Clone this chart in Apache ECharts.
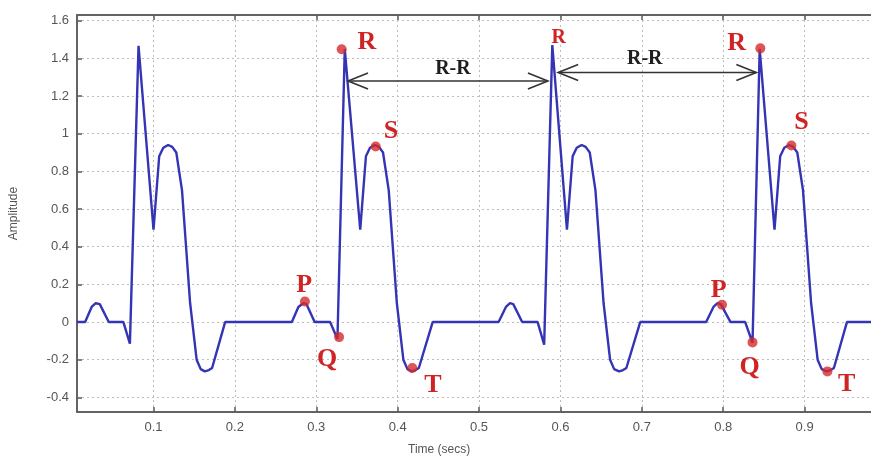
<!DOCTYPE html>
<html>
<head>
<meta charset="utf-8">
<script src="https://cdn.jsdelivr.net/npm/echarts@6/dist/echarts.min.js"></script>
<style>
  html, body { margin: 0; padding: 0; background: #fff; }
  #chart { width: 871px; height: 459px; }
</style>
</head>
<body>
<div id="chart"></div>
<script>
// ECG trace, four beats: time in seconds and amplitude
const timeSec = [
  0.006, 0.016, 0.024, 0.029, 0.034, 0.045, 0.063, 0.071, 0.0816,
  0.100, 0.107, 0.112, 0.118, 0.123, 0.128, 0.135, 0.145, 0.153, 0.158, 0.163, 0.168, 0.172, 0.188,
  0.270, 0.278, 0.284, 0.288, 0.298, 0.317, 0.326, 0.335,
  0.354, 0.361, 0.366, 0.372, 0.377, 0.382, 0.389, 0.399, 0.407, 0.412, 0.417, 0.422, 0.426, 0.443,
  0.524, 0.533, 0.538, 0.542, 0.553, 0.572, 0.580, 0.590,
  0.608, 0.615, 0.620, 0.626, 0.631, 0.636, 0.643, 0.653, 0.661, 0.666, 0.672, 0.677, 0.681, 0.698,
  0.779, 0.788, 0.793, 0.797, 0.809, 0.827, 0.836, 0.8448,
  0.863, 0.870, 0.875, 0.881, 0.886, 0.891, 0.898, 0.908, 0.916, 0.921, 0.927, 0.932, 0.936, 0.952,
  0.990
];
const amplitude = [
  0, 0, 0.08, 0.10, 0.095, 0, 0, -0.115, 1.466,
  0.49, 0.88, 0.925, 0.94, 0.93, 0.90, 0.70, 0.10, -0.20, -0.25, -0.262, -0.255, -0.244, 0,
  0, 0.08, 0.10, 0.095, 0, 0, -0.09, 1.45,
  0.49, 0.88, 0.925, 0.94, 0.93, 0.90, 0.70, 0.10, -0.20, -0.25, -0.262, -0.255, -0.244, 0,
  0, 0.08, 0.10, 0.095, 0, 0, -0.12, 1.47,
  0.49, 0.88, 0.925, 0.94, 0.93, 0.90, 0.70, 0.10, -0.20, -0.25, -0.262, -0.255, -0.244, 0,
  0, 0.08, 0.10, 0.095, 0, 0, -0.11, 1.45,
  0.49, 0.88, 0.925, 0.94, 0.93, 0.90, 0.70, 0.10, -0.20, -0.25, -0.262, -0.255, -0.244, 0,
  0
];

// axis ticks
const xTicks = [0.1, 0.2, 0.3, 0.4, 0.5, 0.6, 0.7, 0.8, 0.9];
const yTicks = [-0.4, -0.2, 0, 0.2, 0.4, 0.6, 0.8, 1, 1.2, 1.4, 1.6];

// marked waves (dots on the trace)
const waveX = [0.286, 0.328, 0.3312, 0.373, 0.418, 0.7985, 0.836, 0.8456, 0.8837, 0.928];
const waveY = [0.109, -0.08, 1.448, 0.932, -0.244, 0.092, -0.108, 1.453, 0.937, -0.262];

// wave letters and where they sit
const letterText = ['P', 'Q', 'R', 'S', 'T', 'R', 'P', 'Q', 'R', 'S', 'T'];
const letterX = [0.285, 0.3132, 0.3621, 0.3918, 0.4434, 0.598, 0.7945, 0.8325, 0.8164, 0.8963, 0.9516];
const letterY = [0.193, -0.20, 1.487, 1.015, -0.338, 1.508, 0.166, -0.242, 1.482, 1.063, -0.333];
const letterSize = [26, 26, 26, 26, 26, 20, 26, 26, 26, 26, 26];

// R-R intervals
const rrStart = [0.339, 0.5972];
const rrEnd = [0.5846, 0.8407];
const rrLevel = [1.28, 1.325];
const rrLabelX = [0.4679, 0.7036];
const rrLabelY = [1.344, 1.397];

const chart = echarts.init(document.getElementById('chart'), null, { renderer: 'canvas' });

const traceData = timeSec.map((t, i) => [t, amplitude[i]]);
const dotData = waveX.map((x, i) => [x, waveY[i]]);
const letterData = letterX.map((x, i) => [x, letterY[i], letterSize[i], letterText[i]]);
const rrData = rrStart.map((s, i) => [s, rrEnd[i], rrLevel[i]]);
const rrTextData = rrLabelX.map((x, i) => [x, rrLabelY[i]]);

const frame = '#5a5a5a';
const gridLine = { show: true, lineStyle: { color: '#bdbdbd', width: 1, type: [2, 3] } };
const tickFmt = v => {
  const r = Math.round(v * 10) / 10;
  return String(r);
};

chart.setOption({
  animation: false,
  backgroundColor: '#ffffff',
  grid: {
    left: 77, right: -15, top: 15, bottom: 47,
    show: true, borderColor: frame, borderWidth: 1.5, backgroundColor: '#fff',
    containLabel: false, outerBoundsMode: 'none'
  },
  xAxis: [{
    type: 'value', min: 0.006, max: 1.0,
    axisLine: { show: true, onZero: false, lineStyle: { color: frame, width: 1.5 } },
    axisTick: { show: true, inside: true, length: 5, customValues: xTicks, lineStyle: { color: frame, width: 1.5 } },
    axisLabel: { customValues: xTicks, formatter: tickFmt, color: '#555', fontSize: 13,
      fontFamily: 'Liberation Sans, Arial, sans-serif', margin: 9 },
    splitLine: gridLine
  }, {
    type: 'value', min: 0.006, max: 1.0, position: 'top',
    axisLine: { show: true, onZero: false, lineStyle: { color: frame, width: 1.5 } },
    axisTick: { show: true, inside: true, length: 5, customValues: xTicks, lineStyle: { color: frame, width: 1.5 } },
    axisLabel: { show: false },
    splitLine: { show: false }
  }],
  yAxis: {
    type: 'value', min: -0.4775, max: 1.63,
    name: 'Amplitude', nameLocation: 'middle', nameGap: 57, nameRotate: 90,
    nameTextStyle: { color: '#555', fontSize: 12, fontFamily: 'Liberation Sans, Arial, sans-serif' },
    axisLine: { show: true, onZero: false, lineStyle: { color: frame, width: 1.5 } },
    axisTick: { show: true, inside: true, length: 5, customValues: yTicks, lineStyle: { color: frame, width: 1.5 } },
    axisLabel: { customValues: yTicks, formatter: tickFmt, color: '#555', fontSize: 13,
      fontFamily: 'Liberation Sans, Arial, sans-serif', margin: 8 },
    splitLine: gridLine
  },
  graphic: [{
    type: 'text', left: 408, top: 444,
    style: { text: 'Time (secs)', fill: '#555', font: '12px "Liberation Sans", Arial, sans-serif' }
  }],
  series: [
    {
      name: 'ECG', type: 'line', data: traceData, showSymbol: false, smooth: false,
      lineStyle: { color: '#3434b4', width: 2.4 }, z: 3
    },
    {
      name: 'R-R', type: 'custom', data: rrData, z: 4,
      renderItem: (params, api) => {
        const a = api.coord([api.value(0), api.value(2)]);
        const b = api.coord([api.value(1), api.value(2)]);
        const st = { stroke: '#333', lineWidth: 1.6, fill: 'none' };
        return {
          type: 'group',
          children: [
            { type: 'line', shape: { x1: a[0], y1: a[1], x2: b[0], y2: b[1] }, style: st },
            { type: 'polyline', shape: { points: [[a[0] + 20, a[1] - 8], [a[0], a[1]], [a[0] + 20, a[1] + 8]] }, style: st },
            { type: 'polyline', shape: { points: [[b[0] - 20, b[1] - 8], [b[0], b[1]], [b[0] - 20, b[1] + 8]] }, style: st }
          ]
        };
      }
    },
    {
      name: 'R-R label', type: 'custom', data: rrTextData, z: 5,
      renderItem: (params, api) => {
        const p = api.coord([api.value(0), api.value(1)]);
        return {
          type: 'text', x: p[0], y: p[1],
          style: { text: 'R-R', fill: '#1e1e1e', align: 'center', verticalAlign: 'middle',
            font: 'bold 20px "Liberation Serif", "Times New Roman", serif' }
        };
      }
    },
    {
      name: 'Waves', type: 'scatter', data: dotData, symbol: 'circle', symbolSize: 10,
      itemStyle: { color: '#d42a2a' }, z: 6
    },
    {
      name: 'Wave labels', type: 'custom', data: letterData, z: 7,
      renderItem: (params, api) => {
        const p = api.coord([api.value(0), api.value(1)]);
        const d = letterData[params.dataIndex];
        return {
          type: 'text', x: p[0], y: p[1],
          style: { text: d[3], fill: '#d02424', align: 'center', verticalAlign: 'middle',
            font: 'bold ' + d[2] + 'px "Liberation Serif", "Times New Roman", serif' }
        };
      }
    }
  ]
});
</script>
</body>
</html>
